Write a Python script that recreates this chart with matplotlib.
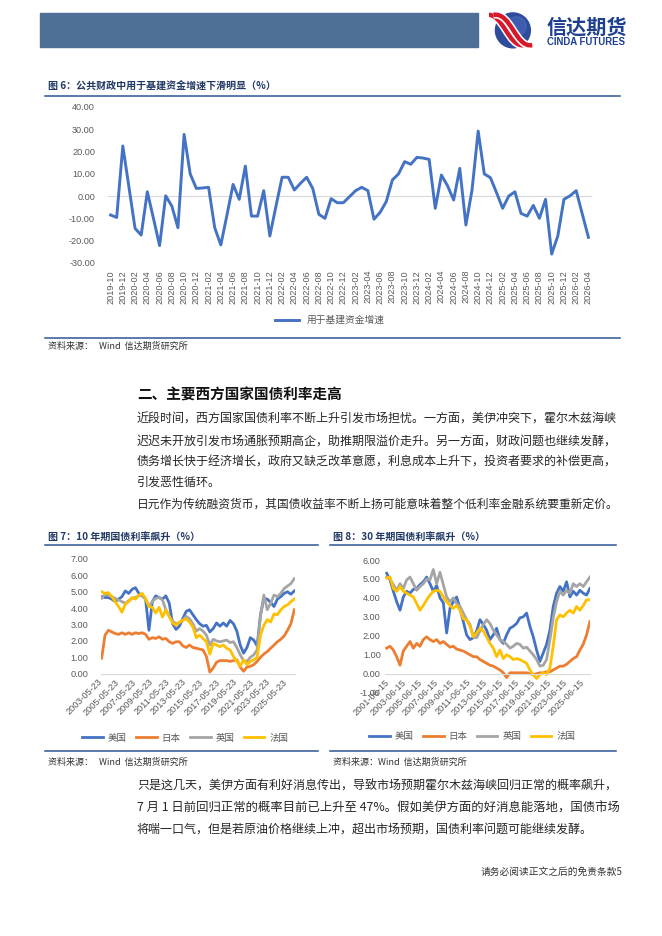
import numpy as np
import pandas as pd
import matplotlib
matplotlib.use("Agg")
import matplotlib.pyplot as plt
import matplotlib.patches as mpatches
from matplotlib.path import Path
from matplotlib.lines import Line2D

plt.rcParams['font.family'] = ['Liberation Sans', 'Noto Sans CJK SC', 'DejaVu Sans']
plt.rcParams['axes.unicode_minus'] = False

# === DATA ===
# fig 6: monthly growth of infrastructure spending (%)
months6 = pd.period_range('2019-10', '2026-04', freq='M').strftime('%Y-%m').tolist()
infra_growth = [-8.5, -9.6, 22.4, 4.0, -14.5, -17.5, 1.9, -10.0, -22.2, 0.1,
                -4.5, -14.2, 27.6, 9.9, 3.4, 3.6, 3.9, -14.2, -21.9, -8.5,
                5.2, -1.5, 13.4, -9.0, -9.0, 2.4, -17.9, -4.5, 8.4, 8.4,
                2.7, 5.7, 8.4, 3.4, -8.2, -10.0, -1.2, -3.0, -3.0, -0.3,
                2.4, 3.9, 2.4, -10.4, -7.3, -2.5, 7.2, 9.9, 15.4, 14.2,
                17.3, 17.0, 16.4, -5.5, 9.4, 4.6, -1.8, 12.4, -13.0, 2.7,
                29.1, 9.9, 8.2, 1.5, -5.5, 0.0, 1.9, -7.8, -9.0, -4.2,
                -10.0, -1.5, -26.0, -17.9, -1.5, 0.1, 2.4, -8.1, -18.5]

# fig 7: 10y government bond yields (%), sampled along the chart
dates10 = pd.date_range('2003-06-20', '2026-05-15', periods=58)
us10 = [4.7, 4.65, 4.65, 4.55, 4.4, 4.55, 4.7, 5.05, 4.9, 5.15,
        5.25, 4.9, 4.75, 4.55, 2.65, 4.4, 4.75, 4.65, 4.55, 4.75,
        4.3, 3.05, 2.7, 2.9, 3.35, 3.8, 3.9, 3.6, 3.3, 3.05,
        2.9, 2.95, 2.55, 2.75, 3.1, 2.9, 3.1, 2.9, 3.25, 3.05,
        2.6, 1.75, 1.25, 1.6, 2.2, 2.05, 1.7, 3.6, 4.6, 4.55,
        4.35, 4.1, 4.55, 4.7, 4.9, 5.0, 4.85, 5.05]
jp10 = [0.95, 2.35, 2.65, 2.55, 2.45, 2.4, 2.5, 2.4, 2.5, 2.4,
        2.5, 2.45, 2.5, 2.4, 2.1, 2.2, 2.15, 2.25, 2.1, 2.15,
        1.95, 1.85, 1.95, 1.95, 1.7, 1.6, 1.75, 1.6, 1.55, 1.5,
        1.45, 1.05, 0.1, 0.35, 0.7, 0.8, 0.8, 0.8, 0.75, 0.8,
        0.85, 0.4, 0.15, 0.4, 0.45, 0.55, 0.75, 1.0, 1.2, 1.35,
        1.55, 1.75, 1.95, 2.1, 2.3, 2.65, 3.05, 3.9]
uk10 = [4.6, 4.85, 4.8, 4.7, 4.6, 4.5, 4.4, 4.3, 4.45, 4.6,
        4.65, 4.75, 4.8, 4.55, 4.1, 4.4, 4.6, 4.65, 4.5, 3.9,
        3.5, 3.2, 3.05, 3.1, 3.25, 3.5, 3.35, 3.05, 2.6, 2.75,
        2.6, 2.35, 1.75, 2.1, 2.0, 1.95, 2.0, 2.05, 1.9, 1.95,
        1.6, 1.15, 0.8, 0.75, 1.0, 1.15, 1.45, 3.5, 4.8, 3.9,
        4.3, 4.8, 4.7, 4.9, 5.2, 5.35, 5.5, 5.8]
fr10 = [5.0, 4.9, 4.95, 4.7, 4.4, 4.1, 3.75, 4.25, 4.4, 4.65,
        4.55, 4.8, 4.9, 4.55, 4.1, 4.05, 3.7, 4.05, 3.45, 3.9,
        3.5, 3.1, 2.95, 3.15, 3.25, 3.35, 3.15, 2.85, 2.2, 2.35,
        2.15, 1.95, 1.2, 1.85, 1.75, 1.65, 1.75, 1.55, 1.45, 1.05,
        0.75, 0.45, 0.85, 0.55, 0.75, 0.85, 1.0, 2.35, 2.95, 3.3,
        3.15, 3.65, 3.6, 3.9, 4.1, 4.2, 4.4, 4.55]

# fig 8: 30y government bond yields (%)
dates30 = pd.date_range('2001-04-01', '2026-05-15', periods=62)
us30 = [5.3, 4.95, 4.35, 3.8, 3.35, 4.05, 4.35, 4.25, 4.45, 4.5,
        4.7, 4.85, 5.1, 4.75, 4.35, 4.65, 4.0, 3.75, 2.15, 3.45,
        3.8, 4.05, 3.45, 2.75, 2.05, 1.8, 1.9, 2.25, 2.85, 2.6,
        2.3, 1.8, 2.05, 2.4, 1.8, 1.6, 2.05, 2.4, 2.5, 2.65,
        2.95, 3.0, 3.2, 2.5, 1.95, 1.25, 0.65, 1.1, 1.55, 2.3,
        3.55, 4.25, 4.6, 4.35, 4.85, 4.05, 4.35, 4.15, 4.4, 4.25,
        4.15, 4.5]
jp30 = [1.35, 1.45, 1.25, 0.9, 0.45, 1.2, 1.45, 1.7, 1.35, 1.6,
        1.45, 1.8, 1.95, 1.8, 1.7, 1.8, 1.6, 1.7, 1.55, 1.4,
        1.45, 1.3, 1.25, 1.2, 1.1, 1.0, 0.9, 0.9, 0.75, 0.65,
        0.55, 0.45, 0.4, 0.3, 0.2, 0.05, -0.2, 0.05, 0.05, 0.05,
        0.05, 0.05, 0.05, 0.0, -0.05, 0.0, 0.05, 0.05, 0.1, 0.1,
        0.2, 0.3, 0.4, 0.4, 0.5, 0.65, 0.8, 0.9, 1.25, 1.55,
        2.05, 2.75]
uk30 = [5.1, 5.0, 4.7, 4.4, 4.75, 4.5, 4.95, 5.1, 4.75, 4.4,
        4.6, 4.75, 5.0, 4.95, 5.5, 4.75, 5.35, 4.7, 4.05, 3.8,
        4.0, 3.7, 3.55, 3.2, 2.85, 2.6, 1.95, 1.9, 2.25, 2.6,
        2.85, 2.65, 2.3, 2.05, 1.8, 1.7, 1.55, 1.35, 1.45, 1.6,
        1.55, 1.35, 1.4, 1.2, 1.0, 0.75, 0.4, 0.45, 0.75, 1.8,
        2.95, 3.8, 4.35, 4.15, 4.4, 4.25, 4.75, 4.6, 4.75, 4.6,
        4.85, 5.1]
fr30 = [5.05, 5.1, 4.5, 4.35, 4.6, 4.35, 4.25, 4.15, 4.05, 3.7,
        3.35, 3.6, 3.9, 4.15, 4.35, 4.4, 4.35, 4.05, 3.8, 3.6,
        3.45, 3.6, 3.35, 2.9, 2.85, 2.5, 1.95, 2.15, 2.4, 2.25,
        1.95, 1.6, 1.35, 0.9, 1.25, 0.8, 1.0, 0.9, 0.75, 0.8,
        0.75, 0.65, 0.55, 0.2, -0.05, -0.25, -0.05, 0.05, -0.05, 0.3,
        1.45, 2.85, 3.1, 3.0, 3.2, 3.35, 3.2, 3.55, 3.35, 3.6,
        3.9, 3.9]

COUNTRIES = ['美国', '日本', '英国', '法国']
COLORS = ['#4472C4', '#ED7D31', '#A5A5A5', '#FFC000']

# === LAYOUT HELPERS (pixel coords, origin top-left) ===
W, H = 662, 936
CJK = ['Noto Sans CJK SC', 'DejaVu Sans']
GREY = '#595959'
NAVY = '#1f3864'
RULE = '#2f5597'


def fx(x):
    return x / W


def fy(y):
    return 1 - y / H


fig = plt.figure(figsize=(W / 100, H / 100), dpi=100)
fig.patch.set_facecolor('white')


def txt(x, y, s, size, **kw):
    kw.setdefault('va', 'center')
    kw.setdefault('family', CJK)
    return fig.text(fx(x), fy(y), s, fontsize=size, **kw)


def rule(x0, x1, y, color=RULE, lw=1.1):
    fig.add_artist(Line2D([fx(x0), fx(x1)], [fy(y), fy(y)], color=color, lw=lw))


def fit_line(x0, x1, y, s, size):
    # stretch a body line so it fills the text column, like justified text
    t = txt(x0, y, s, size, color='#262626')
    w = t.get_window_extent(fig.canvas.get_renderer()).width
    t.set_fontsize(size * (x1 - x0) / w)
    return size * (x1 - x0) / w


def style_axes(ax):
    for s in ax.spines.values():
        s.set_visible(False)
    ax.tick_params(length=0, labelsize=6.6, labelcolor=GREY)


# === HEADER ===
fig.add_artist(mpatches.Rectangle((fx(40), fy(47)), 438 / W, 34 / H,
                                  transform=fig.transFigure, color='#4e6f96'))
axl = fig.add_axes([fx(489), fy(49), 44 / W, 38 / H])
axl.set_xlim(-1.16, 1.16)
axl.set_ylim(-1.0, 1.0)
axl.set_aspect('equal')
axl.axis('off')
axl.add_patch(mpatches.Circle((0.1, -0.02), 0.92, color='#2d4c9c'))
axl.add_patch(mpatches.Circle((0.3, 0.2), 0.5, color='#4f6fc0', alpha=0.5))
for d in (-0.28, 0.12):
    p = Path([(-1.05 + d, 0.8), (-0.1 + d, 0.95), (0.1 + d, -0.95), (1.0 + d, -0.8)],
             [Path.MOVETO, Path.CURVE4, Path.CURVE4, Path.CURVE4])
    axl.add_patch(mpatches.PathPatch(p, fill=False, ec='white', lw=5.5))
    axl.add_patch(mpatches.PathPatch(p, fill=False, ec='#d7182a', lw=3.2))
txt(547, 27, '信达期货', 14.5, weight='bold', color='#1d3f8f')
txt(547, 42, 'CINDA FUTURES', 6.9, weight='bold', color='#1d3f8f',
    family=['Liberation Sans', 'DejaVu Sans'])

# === FIGURE 6 ===
txt(48, 86, '图 6：公共财政中用于基建资金增速下滑明显（%）', 7.2, weight='bold', color=NAVY)
rule(45, 620, 96)

ax6 = fig.add_axes([fx(107.5), fy(263), 484 / W, 156.3 / H])
xi = np.arange(len(months6))
ax6.axhline(0, color='#d9d9d9', lw=0.8, zorder=1)
ax6.plot(xi, infra_growth, color='#4472C4', lw=2.1, label='用于基建资金增速', zorder=3)
ax6.set_xlim(-0.5, len(xi) - 0.5)
ax6.set_ylim(-30, 40)
yt6 = np.arange(-30, 41, 10)
ax6.set_yticks(yt6)
ax6.set_yticklabels([f'{v:.2f}' for v in yt6])
ax6.set_xticks(xi[::2])
ax6.set_xticklabels(months6[::2], rotation=90)
style_axes(ax6)
ax6.tick_params(axis='y', pad=9)
ax6.tick_params(axis='x', pad=5)
ax6.legend(loc='center', bbox_to_anchor=(fx(330), fy(320)), bbox_transform=fig.transFigure,
           frameon=False, prop={'family': CJK, 'size': 7}, handlelength=2.4,
           labelcolor=GREY)

rule(45, 620, 338)
txt(48, 346, '资料来源：   Wind  信达期货研究所', 6.5, color='#333333')

# === SECTION TEXT ===
txt(137, 395, '二、主要西方国家国债利率走高', 10.5, weight='bold', color='#111111')
fs = fit_line(137, 620, 419, '近段时间，西方国家国债利率不断上升引发市场担忧。一方面，美伊冲突下，霍尔木兹海峡', 8.7)
fit_line(137, 620, 441, '迟迟未开放引发市场通胀预期高企，助推期限溢价走升。另一方面，财政问题也继续发酵，', 8.7)
fit_line(137, 620, 462, '债务增长快于经济增长，政府又缺乏改革意愿，利息成本上升下，投资者要求的补偿更高，', 8.7)
txt(137, 482, '引发恶性循环。', fs, color='#262626')
fit_line(137, 620, 504, '日元作为传统融资货币，其国债收益率不断上扬可能意味着整个低利率金融系统要重新定价。', 8.7)

# === FIGURE 7 / 8 ===
txt(48, 537, '图 7：10 年期国债利率飙升（%）', 7.2, weight='bold', color=NAVY)
rule(45, 318, 545)
txt(333, 537, '图 8：30 年期国债利率飙升（%）', 7.2, weight='bold', color=NAVY)
rule(330, 616, 545)


def bond_axes(ax, dates, series, xlim, ylim, tick_day, first_year):
    style_axes(ax)
    ax.spines['bottom'].set_visible(True)
    ax.spines['bottom'].set_color('#d9d9d9')
    ax.spines['bottom'].set_position(('data', 0))
    for vals, c, lab in zip(series, COLORS, COUNTRIES):
        ax.plot(dates, vals, color=c, lw=2.0, label=lab)
    ax.set_xlim(pd.Timestamp(xlim[0]), pd.Timestamp(xlim[1]))
    ax.set_ylim(*ylim)
    yt = range(ylim[0], ylim[1] + 1)
    ax.set_yticks(yt)
    ax.set_yticklabels([f'{v:.2f}' for v in yt])
    ticks = pd.to_datetime([f'{y}-{tick_day}' for y in range(first_year, 2026, 2)])
    ax.set_xticks(ticks)
    ax.set_xticklabels([t.strftime('%Y-%m-%d') for t in ticks], rotation=45,
                       ha='right', va='center', rotation_mode='anchor')
    ax.tick_params(length=0, labelsize=6.6, labelcolor=GREY)
    ax.tick_params(axis='x', pad=5)


ax7 = fig.add_axes([fx(101), fy(673.7), 194 / W, 114.7 / H])
bond_axes(ax7, dates10, [us10, jp10, uk10, fr10], ('2003-05-23', '2026-06-15'),
          (0, 7), '05-23', 2003)
ax7.tick_params(axis='y', pad=9)
ax7.legend(loc='center', bbox_to_anchor=(fx(185), fy(738)), bbox_transform=fig.transFigure,
           ncol=4, frameon=False, prop={'family': CJK, 'size': 6.8}, handlelength=2.2,
           handletextpad=0.5, columnspacing=1.0, labelcolor=GREY)

ax8 = fig.add_axes([fx(385), fy(692.7), 205 / W, 132.7 / H])
bond_axes(ax8, dates30, [us30, jp30, uk30, fr30], ('2001-01-15', '2026-05-20'),
          (-1, 6), '06-15', 2001)
ax8.tick_params(axis='y', pad=3)
ax8.legend(loc='center', bbox_to_anchor=(fx(472), fy(737)), bbox_transform=fig.transFigure,
           ncol=4, frameon=False, prop={'family': CJK, 'size': 6.8}, handlelength=2.2,
           handletextpad=0.5, columnspacing=1.0, labelcolor=GREY)

rule(45, 318, 751)
rule(330, 616, 751)
txt(48, 762, '资料来源：   Wind  信达期货研究所', 6.5, color='#333333')
txt(333, 762, '资料来源：Wind  信达期货研究所', 6.5, color='#333333')

fit_line(137, 620, 786, '只是这几天，美伊方面有利好消息传出，导致市场预期霍尔木兹海峡回归正常的概率飙升，', 8.7)
fit_line(137, 620, 808, '7 月 1 日前回归正常的概率目前已上升至 47%。假如美伊方面的好消息能落地，国债市场', 8.7)
txt(137, 829, '将喘一口气，但是若原油价格继续上冲，超出市场预期，国债利率问题可能继续发酵。', fs, color='#262626')

txt(622, 872, '请务必阅读正文之后的免责条款5', 7, color='#333333', ha='right')

fig.savefig('out.png', dpi=100, facecolor='white')
